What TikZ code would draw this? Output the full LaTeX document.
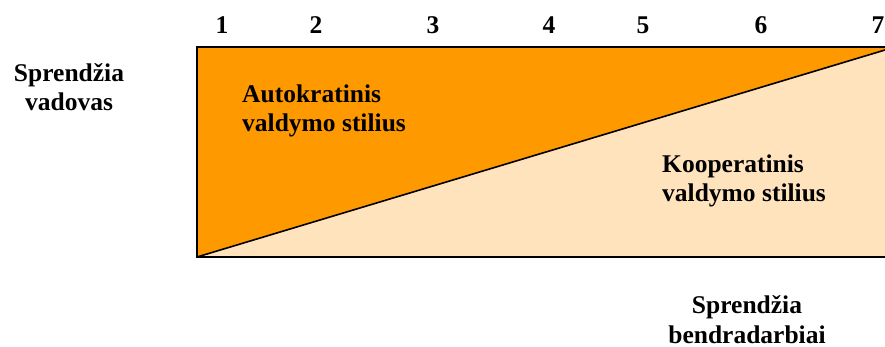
\documentclass[tikz,border=0pt]{standalone}
\usepackage{fontspec}
\setmainfont{Liberation Serif}
\definecolor{autoorange}{HTML}{FF9900}
\definecolor{coopbeige}{HTML}{FFE3BD}
\tikzset{
  lbl/.style={font=\fontsize{25.5}{29.5}\selectfont\bfseries, inner sep=0pt, anchor=base},
  num/.style={font=\fontsize{25.5}{29.5}\selectfont\bfseries, inner sep=0pt, anchor=base},
  edge/.style={line width=1.6pt, line join=miter}
}
\begin{document}
\begin{tikzpicture}[x=1pt,y=-1pt]
\useasboundingbox (0,0) rectangle (885,347);
\coordinate (tl) at (197,47);
\coordinate (bl) at (197,257);
\coordinate (tr) at (890,47);
\coordinate (br) at (890,257);
\coordinate (dend) at (890,48.5);
\fill[coopbeige] (tl) rectangle (br);
\fill[autoorange] (bl) -- (tl) -- (tr) -- (dend) -- cycle;
\draw[edge] (tl) rectangle (br);
\draw[edge] (bl) -- (dend);
\node[num] (n1) at (222,34) {1};
\node[num] (n2) at (316,34) {2};
\node[num] (n3) at (433,34) {3};
\node[num] (n4) at (549,34) {4};
\node[num] (n5) at (643,34) {5};
\node[num] (n6) at (761,34) {6};
\node[num] (n7) at (878,34) {7};
\node[lbl, align=center] (vad) at (69,111) {Sprendžia\\vadovas};
\node[lbl, align=left, anchor=base west] (auto) at (242,132) {Autokratinis\\valdymo stilius};
\node[lbl, align=left, anchor=base west] (coop) at (662,202) {Kooperatinis\\valdymo stilius};
\node[lbl, align=center] (bend) at (747,343) {Sprendžia\\bendradarbiai};
\end{tikzpicture}
\end{document}
